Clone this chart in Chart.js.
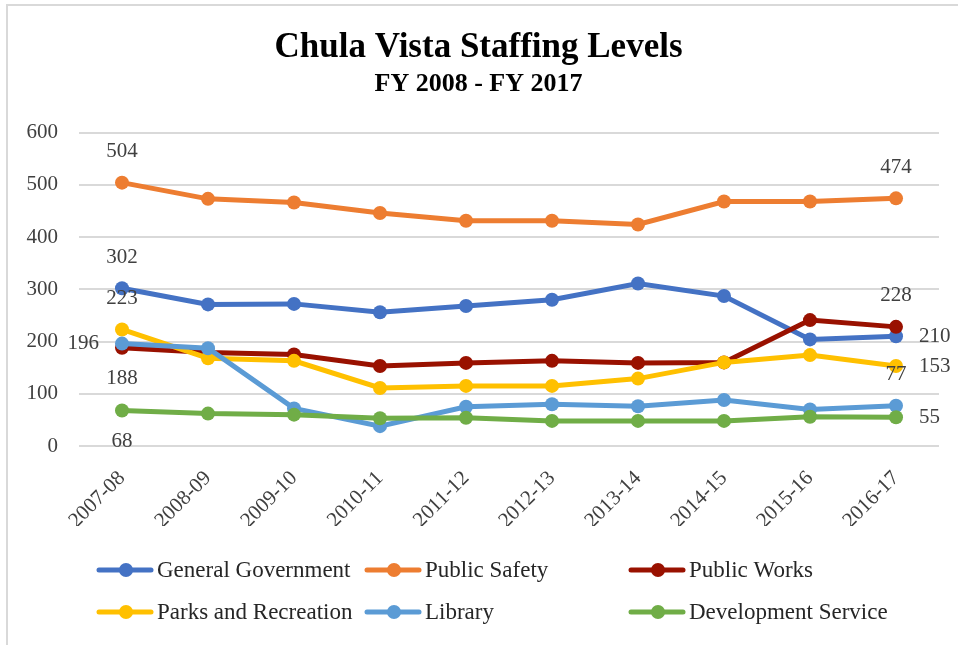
<!DOCTYPE html>
<html>
<head>
<meta charset="utf-8">
<script src="https://cdn.jsdelivr.net/npm/chart.js@4/dist/chart.umd.min.js"></script>
<style>
  html, body { margin: 0; padding: 0; background: #fff; }
  #wrap { position: relative; width: 958px; height: 645px; }
  #frame { position: absolute; left: 6px; top: 4px; right: 0; bottom: 0; border-top: 2px solid #d9d9d9; border-left: 2px solid #d9d9d9; pointer-events: none; }
  canvas { position: absolute; left: 0; top: 0; }
</style>
</head>
<body>
<div id="wrap">
  <canvas id="c" width="958" height="645"></canvas>
  <div id="frame"></div>
</div>
<script>
const categories = ["2007-08","2008-09","2009-10","2010-11","2011-12","2012-13","2013-14","2014-15","2015-16","2016-17"];
const seriesNames = ["General Government","Public Safety","Public Works","Parks and Recreation","Library","Development Service"];
const generalGovernment = [302, 271, 272, 256, 268, 280, 311, 287, 204, 210];
const publicSafety      = [504, 473, 466, 446, 431, 431, 424, 468, 468, 474];
const publicWorks       = [188, 179, 175, 153, 159, 163, 159, 160, 241, 228];
const parksRecreation   = [223, 168, 163, 111, 115, 115, 129, 160, 174, 153];
const library           = [196, 187, 72, 38, 75, 80, 76, 88, 70, 77];
const developmentSvc    = [68, 62, 60, 53, 54, 48, 48, 48, 56, 55];
const yTicks = [0, 100, 200, 300, 400, 500, 600];

const seriesData = [generalGovernment, publicSafety, publicWorks, parksRecreation, library, developmentSvc];
const colors = ["#4472C4", "#ED7D31", "#991100", "#FFC000", "#5B9BD5", "#70AD47"];
// label placement for first / last point
const labelPos = [
  ["above", "right"],
  ["above", "above"],
  ["below", "above"],
  ["above", "right"],
  ["left", "above"],
  ["below", "right"]
];
const FONT = "'Liberation Serif', 'DejaVu Serif', serif";

const dataLabelPlugin = {
  id: "dataLabels",
  afterDatasetsDraw(chart) {
    const ctx = chart.ctx;
    ctx.save();
    ctx.font = "21px " + FONT;
    ctx.fillStyle = "#404040";
    chart.data.datasets.forEach((ds, i) => {
      const meta = chart.getDatasetMeta(i);
      const idxs = [0, ds.data.length - 1];
      idxs.forEach((idx, k) => {
        const pt = meta.data[idx];
        const pos = labelPos[i][k];
        const txt = String(ds.data[idx]);
        let x = pt.x, y = pt.y;
        ctx.textBaseline = "middle";
        if (pos === "above") { ctx.textAlign = "center"; y -= 31; }
        else if (pos === "below") { ctx.textAlign = "center"; y += 31; }
        else if (pos === "left") { ctx.textAlign = "right"; x -= 23; }
        else { ctx.textAlign = "left"; x += 23; }
        ctx.fillText(txt, x, y);
      });
    });
    ctx.restore();
  }
};

const legendPlugin = {
  id: "customLegend",
  afterDraw(chart) {
    const ctx = chart.ctx;
    const cols = [97, 365, 629];
    const rows = [570, 612];
    ctx.save();
    ctx.font = "23px " + FONT;
    ctx.textBaseline = "middle";
    ctx.textAlign = "left";
    seriesNames.forEach((name, i) => {
      const x = cols[i % 3], y = rows[Math.floor(i / 3)];
      ctx.strokeStyle = colors[i];
      ctx.lineWidth = 5;
      ctx.lineCap = "round";
      ctx.beginPath();
      ctx.moveTo(x + 2, y);
      ctx.lineTo(x + 54, y);
      ctx.stroke();
      ctx.fillStyle = colors[i];
      ctx.beginPath();
      ctx.arc(x + 29, y, 7, 0, Math.PI * 2);
      ctx.fill();
      ctx.fillStyle = "#262626";
      ctx.fillText(name, x + 60, y + 1);
    });
    ctx.restore();
  }
};

new Chart(document.getElementById("c"), {
  type: "line",
  data: {
    labels: categories,
    datasets: seriesData.map((d, i) => ({
      label: seriesNames[i],
      data: d,
      borderColor: colors[i],
      backgroundColor: colors[i],
      borderWidth: 5,
      pointRadius: 7,
      pointHoverRadius: 7,
      pointBorderWidth: 0,
      tension: 0,
      order: 6 - i
    }))
  },
  options: {
    responsive: false,
    animation: false,
    layout: { padding: { left: 18, right: 19, top: 0, bottom: 119 } },
    plugins: {
      legend: { display: false },
      tooltip: { enabled: false },
      title: {
        display: true,
        text: "Chula Vista Staffing Levels",
        color: "#000",
        font: { family: FONT, size: 35, weight: "bold", lineHeight: 1.1 },
        padding: { top: 29, bottom: 4 }
      },
      subtitle: {
        display: true,
        text: "FY 2008 - FY 2017",
        color: "#000",
        font: { family: FONT, size: 26, weight: "bold", lineHeight: 1.0 },
        padding: { top: 0, bottom: 35 }
      }
    },
    scales: {
      x: {
        grid: { display: false, drawTicks: false },
        border: { display: false },
        offset: true,
        ticks: {
          color: "#404040",
          font: { family: FONT, size: 21 },
          maxRotation: 45, minRotation: 45,
          padding: 20,
          autoSkip: false
        },
        afterFit(scale) { scale.height = 80; }
      },
      y: {
        min: 0, max: 600,
        afterBuildTicks(scale) { scale.ticks = yTicks.map(v => ({ value: v })); },
        grid: { color: "#d9d9d9", lineWidth: 2, drawTicks: false },
        border: { display: false },
        ticks: {
          color: "#404040",
          font: { family: FONT, size: 21 },
          padding: 21
        },
        afterFit(scale) { scale.width = 61; }
      }
    }
  },
  plugins: [dataLabelPlugin, legendPlugin]
});
</script>
</body>
</html>
